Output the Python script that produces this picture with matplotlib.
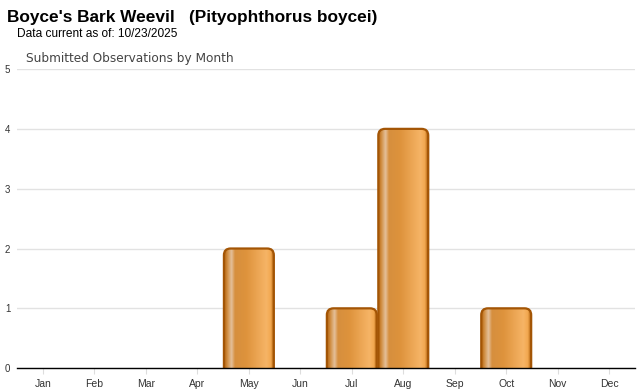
import matplotlib.pyplot as plt
import numpy as np
from matplotlib.patches import FancyBboxPatch
from matplotlib.colors import LinearSegmentedColormap

months = ['Jan', 'Feb', 'Mar', 'Apr', 'May', 'Jun', 'Jul', 'Aug', 'Sep', 'Oct', 'Nov', 'Dec']
counts = [0, 0, 0, 0, 2, 0, 1, 4, 0, 1, 0, 0]
yticks = [0, 1, 2, 3, 4, 5]

plt.rcParams['font.family'] = ['Liberation Sans', 'DejaVu Sans']

fig = plt.figure(figsize=(6.4, 3.9), dpi=100)
ax = fig.add_axes([0.027, 0.056, 0.965, 0.767])

x = np.arange(len(months))

# horizontal gradient for the bars
grad = LinearSegmentedColormap.from_list('bar', [
    (0.0, '#b0600c'), (0.06, '#cf8a3c'), (0.15, '#e4c09a'), (0.22, '#d68f3e'),
    (0.45, '#de933c'), (0.85, '#f6b466'), (0.94, '#f2a850'), (1.0, '#b0600c')])
g = np.linspace(0, 1, 256).reshape(1, -1)

w = 0.97
for xi, v in zip(x, counts):
    if v <= 0:
        continue
    patch = FancyBboxPatch((xi - w / 2, -0.3), w, v + 0.3,
                           boxstyle='round,pad=0,rounding_size=0.13',
                           mutation_aspect=0.86,
                           facecolor='none', edgecolor='#a35505', lw=1.6, zorder=3)
    ax.add_patch(patch)
    im = ax.imshow(g, cmap=grad, aspect='auto', extent=(xi - w / 2, xi + w / 2, -0.3, v),
                   zorder=2, interpolation='bilinear')
    im.set_clip_path(patch)

ax.set_xlim(-0.5, len(months) - 0.5)
ax.set_ylim(0, 5)

ax.set_yticks(yticks)
ax.set_yticklabels([str(t) for t in yticks])
ax.set_xticks(x)
ax.set_xticklabels(months)
ax.grid(axis='y', color='#e2e2e2', lw=1)
ax.set_axisbelow(True)
ax.tick_params(axis='y', length=0, labelsize=7, labelcolor='#333333', pad=5)
ax.tick_params(axis='x', length=4, color='#dddddd', labelsize=7.5, labelcolor='#333333', pad=4)
for s in ['top', 'right', 'left']:
    ax.spines[s].set_visible(False)
ax.spines['bottom'].set_color('black')
ax.spines['bottom'].set_linewidth(1)
ax.spines['bottom'].set_zorder(5)

fig.text(0.011, 0.956, "Boyce's Bark Weevil   (Pityophthorus boycei)", fontsize=12.4,
         fontweight='bold', va='center', ha='left')
fig.text(0.027, 0.913, 'Data current as of: 10/23/2025', fontsize=8.6, va='center', ha='left')
fig.text(0.040, 0.851, 'Submitted Observations by Month', fontsize=8.7, color='#444444',
         va='center', ha='left', family=['DejaVu Sans'])

fig.savefig('out.png', dpi=100)
